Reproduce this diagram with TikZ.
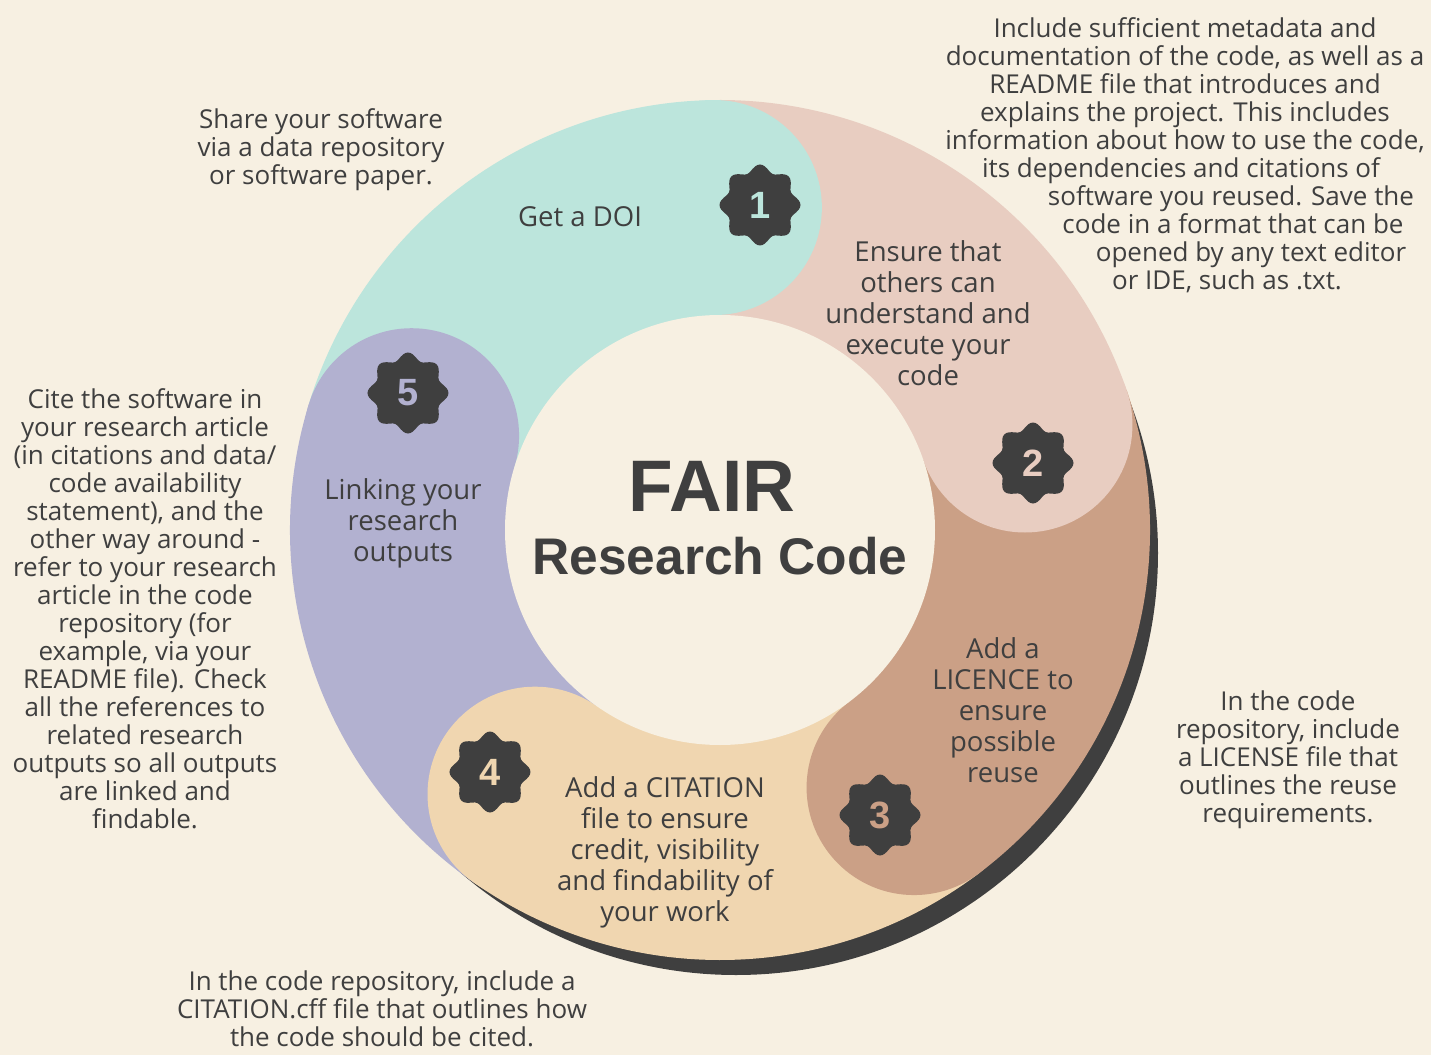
\documentclass[tikz,border=0pt]{standalone}
\usepackage{fontspec}
\setmainfont{Open Sans}
\newfontfamily\titlefont{Liberation Sans}
\definecolor{bgcream}{HTML}{F7F0E2}
\definecolor{segteal}{HTML}{BCE5DC}
\definecolor{segpink}{HTML}{E8CDC1}
\definecolor{segbrown}{HTML}{CBA086}
\definecolor{segbeige}{HTML}{F0D6B0}
\definecolor{segpurple}{HTML}{B2B1D0}
\definecolor{inkgrey}{HTML}{3F3F3F}
\begin{document}
\begin{tikzpicture}[x=1pt,y=1pt,
    sidetext/.style={align=center, text=inkgrey, inner sep=0pt, font=\fontsize{26}{28}\selectfont},
    segtext/.style={align=center, text=inkgrey, inner sep=0pt, font=\fontsize{27.5}{31}\selectfont},
    badgenum/.style={inner sep=0pt, font=\titlefont\fontsize{38}{38}\selectfont\bfseries}]
\fill[bgcream] (-720,-525) rectangle (711,530);
\useasboundingbox (-720,-525) rectangle (711,530);
% shadow under the ring
\fill[inkgrey] (16,-23) circle (422);
% ring segments and their round heads
\foreach \from/\to/\col in {163/91/segteal, 91/19/segpink, 19/-53/segbrown, -53/-125/segbeige, -125/-197/segpurple}
    \fill[\col] (0,0) -- (\from:430) arc (\from:\to:430) -- cycle;
\foreach \to/\col in {91/segteal, 19/segpink, -53/segbrown, -125/segbeige, 163/segpurple}
    \fill[\col] (\to:322.5) circle (107.5);
\fill[bgcream] (0,0) circle (215);
% badges
\foreach \pos/\num/\col in {{(40,325)}/1/segteal, {(313,67)}/2/segpink, {(160,-285)}/3/segbrown, {(-230,-242)}/4/segbeige, {(-312,137)}/5/segpurple} {
    \fill[inkgrey, shift={\pos}] plot[smooth cycle, samples=96, domain=0:356.25] (\x:{37+3.5*cos(8*\x)});
    \node[badgenum, text=\col] (badge\num) at \pos {\num};
}
% centre title
\node[text=inkgrey, inner sep=0pt, font=\titlefont\fontsize{73}{73}\selectfont\bfseries] (fair) at (-8,44) {FAIR};
\node[text=inkgrey, inner sep=0pt, font=\titlefont\fontsize{51.5}{52}\selectfont\bfseries] (rcode) at (0,-26) {Research Code};
% segment labels
\node[segtext] (doi) at (-140,313) {Get a DOI};
\node[segtext] (understand) at (208,217) {Ensure that\\others can\\understand and\\execute your\\code};
\node[segtext] (licence) at (283,-180) {Add a\\LICENCE to\\ensure\\possible\\reuse};
\node[segtext] (citation) at (-55,-322) {Add a CITATION\\file to ensure\\credit, visibility\\and findability of\\your work};
\node[segtext] (linking) at (-317,7) {Linking your\\research\\outputs};
% side notes
\node[sidetext] (share) at (-399,380) {Share your software\\via a data repository\\or software paper.};
\foreach \k/\xc/\line in {0/465/{Include sufficient metadata and},
    1/465/{documentation of the code, as well as a},
    2/465/{README file that introduces and},
    3/465/{explains the project. This includes},
    4/465/{information about how to use the code,},
    5/461/{its dependencies and citations of},
    6/511/{software you reused. Save the},
    7/513/{code in a format that can be},
    8/531/{opened by any text editor},
    9/507/{or IDE, such as .txt.}}
    \node[sidetext, anchor=base] (include\k) at (\xc,{492-28*\k}) {\line};
\node[sidetext] (cite) at (-575,-79) {Cite the software in\\your research article\\(in citations and data/\\code availability\\statement), and the\\other way around -\\refer to your research\\article in the code\\repository (for\\example, via your\\README file). Check\\all the references to\\related research\\outputs so all outputs\\are linked and\\findable.};
\node[sidetext] (license) at (568,-230) {In the code\\repository, include\\a LICENSE file that\\outlines the reuse\\requirements.};
\node[sidetext] (cff) at (-338,-479) {In the code repository, include a\\CITATION.cff file that outlines how\\the code should be cited.};
\end{tikzpicture}
\end{document}
